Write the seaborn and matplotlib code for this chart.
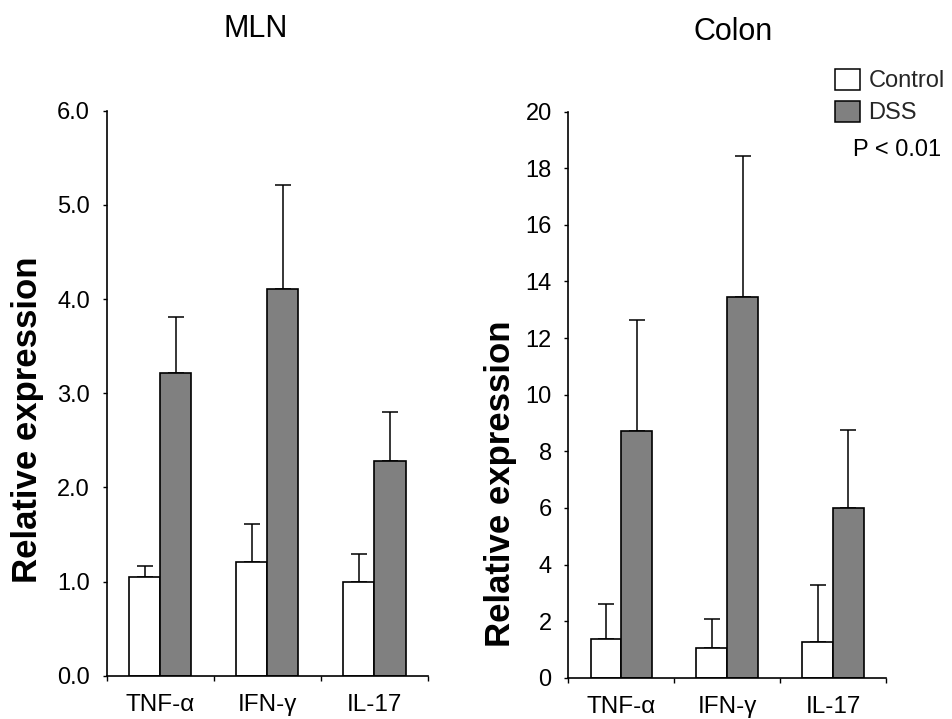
import matplotlib
matplotlib.use("Agg")
import matplotlib.pyplot as plt
from matplotlib.patches import Patch
import numpy as np
import pandas as pd
import seaborn as sns

# Cytokine expression (fold change vs control), mean and upper SD
cytokines = ["TNF-α", "IFN-γ", "IL-17"]
groups = ["Control", "DSS"]

mln_control = [1.05, 1.21, 1.00]
mln_dss = [3.21, 4.11, 2.28]
mln_control_err = [0.11, 0.40, 0.29]
mln_dss_err = [0.60, 1.10, 0.52]

colon_control = [1.36, 1.04, 1.25]
colon_dss = [8.72, 13.46, 6.01]
colon_control_err = [1.24, 1.03, 2.01]
colon_dss_err = [3.93, 4.97, 2.75]

mln_yticks = [0, 1, 2, 3, 4, 5, 6]
colon_yticks = [0, 2, 4, 6, 8, 10, 12, 14, 16, 18, 20]

palette = {"Control": "#ffffff", "DSS": "#808080"}

sns.set_theme(style="ticks")
plt.rcParams["font.family"] = ["Liberation Sans", "DejaVu Sans"]

W, H = 953, 719
fig = plt.figure(figsize=(W / 100, H / 100), dpi=100)
ax1 = fig.add_axes([106.7 / W, 1 - 675.7 / H, 321.3 / W, 565.0 / H])
ax2 = fig.add_axes([568.3 / W, 1 - 677.7 / H, 317.7 / W, 566.0 / H])


def long_frame(control, dss):
    return pd.DataFrame({
        "cytokine": cytokines * 2,
        "group": ["Control"] * 3 + ["DSS"] * 3,
        "value": list(control) + list(dss),
    })


def draw_panel(ax, control, dss, control_err, dss_err, yticks, fmt, label_xy):
    df = long_frame(control, dss)
    sns.barplot(data=df, x="cytokine", y="value", hue="group",
                order=cytokines, hue_order=groups, palette=palette,
                saturation=1, edgecolor="black", linewidth=1.2,
                width=0.58, gap=0, errorbar=None, legend=False, ax=ax,
                zorder=2)
    # upper-only error bars starting from each bar top
    for container, errs in zip(ax.containers, [control_err, dss_err]):
        xs = [b.get_x() + b.get_width() / 2 for b in container]
        ys = [b.get_height() for b in container]
        ax.errorbar(xs, ys, yerr=[np.zeros(len(errs)), errs], fmt="none",
                    ecolor="black", elinewidth=1.1, capsize=5.5,
                    capthick=1.1, zorder=1.5)

    ax.set_xlim(-0.5, 2.5)
    ax.set_ylim(yticks[0], yticks[-1])
    ax.set_xticks(range(len(cytokines)))
    ax.set_xticklabels(cytokines)
    ax.set_xticks([-0.5, 0.5, 1.5, 2.5], minor=True)
    ax.tick_params(axis="x", which="major", length=0, pad=13,
                   labelsize=17.5, colors="black")
    ax.tick_params(axis="x", which="minor", length=3.6, width=1.0,
                   direction="out", color="black")
    ax.set_yticks(yticks)
    ax.set_yticklabels([fmt.format(t) for t in yticks])
    ax.tick_params(axis="y", length=3, width=1.0, pad=9, labelsize=17,
                   direction="out", colors="black")
    ax.set_xlabel("")
    ax.set_ylabel("Relative expression", fontsize=25, fontweight="bold",
                  color="black")
    ax.yaxis.label.set_va("center")
    ax.yaxis.label.set_ha("center")
    ax.yaxis.set_label_coords(*label_xy)
    sns.despine(ax=ax)
    for side in ("left", "bottom"):
        ax.spines[side].set_linewidth(1.2)
        ax.spines[side].set_color("black")


draw_panel(ax1, mln_control, mln_dss, mln_control_err, mln_dss_err,
           mln_yticks, "{:.1f}", (-0.248, 0.4526))
draw_panel(ax2, colon_control, colon_dss, colon_control_err, colon_dss_err,
           colon_yticks, "{:d}", (-0.213, 0.343))

fig.text(256 / W, 1 - 36.7 / H, "MLN", ha="center", va="baseline",
         fontsize=22, color="black")
fig.text(733 / W, 1 - 40 / H, "Colon", ha="center", va="baseline",
         fontsize=22, color="black")

handles = [Patch(facecolor=palette[g], edgecolor="black", linewidth=1.1,
                 label=g) for g in groups]
ax2.legend(handles=handles, loc="upper left",
           bbox_to_anchor=(835 / W, 1 - 69 / H), bbox_transform=fig.transFigure,
           frameon=False, fontsize=17, handlelength=1.06, handleheight=0.97,
           handletextpad=0.35, labelspacing=0.36, borderpad=0,
           borderaxespad=0)
fig.text(853 / W, 1 - 150 / H, "P < 0.01", ha="left", va="center",
         fontsize=17, color="black")

fig.savefig("out.png", dpi=100, facecolor="white")
